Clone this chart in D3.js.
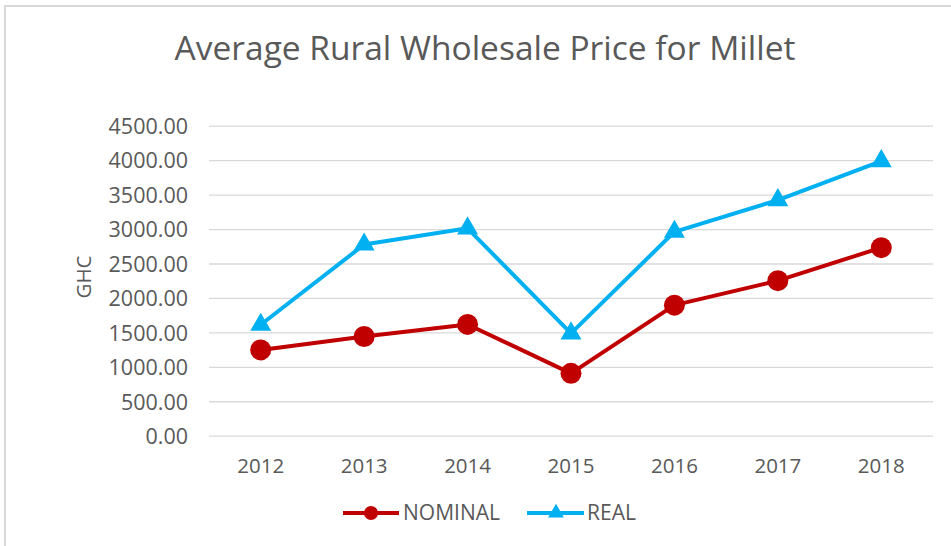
<!DOCTYPE html>
<html>
<head>
<meta charset="utf-8">
<script src="https://cdn.jsdelivr.net/npm/d3@7"></script>
<style>
  body { margin: 0; background: #fff; }
  svg text { font-family: "Open Sans", sans-serif; fill: #595959; }
</style>
</head>
<body>
<div class="chart"></div>
<script>
// data
var years = ["2012", "2013", "2014", "2015", "2016", "2017", "2018"];
var nominal = [1245, 1440, 1615, 905, 1895, 2250, 2730];
var real = [1610, 2775, 3010, 1485, 2960, 3420, 3985];
var yTicks = [0, 500, 1000, 1500, 2000, 2500, 3000, 3500, 4000, 4500];

var w = 951, h = 546;
var plotLeft = 209, plotRight = 933, plotTop = 125.7, plotBottom = 435.7;
var red = "#C00000", blue = "#00B0F0";

var svg = d3.select(".chart")
    .append("svg")
    .attr("width", w)
    .attr("height", h);

// outer frame (only top and left edges are in view)
svg.append("path")
    .attr("d", "M5," + h + " V6 H" + w)
    .attr("fill", "none")
    .attr("stroke", "#d9d9d9")
    .attr("stroke-width", 2);

var x = d3.scaleBand().domain(years).range([plotLeft, plotRight]);
var y = d3.scaleLinear().domain([0, 4500]).range([plotBottom, plotTop]);

// gridlines
svg.append("g")
    .attr("transform", "translate(" + plotLeft + ",0)")
    .call(d3.axisLeft(y).tickValues(yTicks).tickSize(-(plotRight - plotLeft)).tickFormat(""))
    .call(function(g) {
        g.select(".domain").remove();
        g.selectAll("line").attr("stroke", "#d9d9d9").attr("stroke-width", 1.3);
    });

// y tick labels
svg.append("g")
    .attr("transform", "translate(188,0)")
    .call(d3.axisLeft(y).tickValues(yTicks).tickSize(0).tickPadding(0).tickFormat(d3.format(".2f")))
    .call(function(g) {
        g.select(".domain").remove();
        g.selectAll("text").attr("font-size", 21.5).attr("fill", "#595959")
            .attr("font-family", "Open Sans, sans-serif").attr("dy", "0.36em");
    });

// x tick labels
svg.append("g")
    .attr("transform", "translate(0," + plotBottom + ")")
    .call(d3.axisBottom(x).tickSize(0).tickPadding(0))
    .call(function(g) {
        g.select(".domain").remove();
        g.selectAll("text").attr("font-size", 20.5).attr("fill", "#595959")
            .attr("font-family", "Open Sans, sans-serif").attr("dy", null).attr("y", 37);
    });

// y axis title
svg.append("text")
    .attr("transform", "translate(91,277) rotate(-90)")
    .attr("text-anchor", "middle")
    .attr("font-size", 20.5)
    .text("GHC");

// title
svg.append("text")
    .attr("x", 485)
    .attr("y", 60)
    .attr("text-anchor", "middle")
    .attr("font-size", 33.5)
    .text("Average Rural Wholesale Price for Millet");

var cx = function(d, i) { return x(years[i]) + x.bandwidth() / 2; };
var line = d3.line().x(cx).y(function(d) { return y(d); });

var tri = d3.symbol().type(d3.symbolTriangle);

// REAL series
svg.append("path")
    .datum(real)
    .attr("fill", "none")
    .attr("stroke", blue)
    .attr("stroke-width", 4)
    .attr("stroke-linejoin", "round")
    .attr("d", line);

svg.selectAll(".tri")
    .data(real)
    .enter()
    .append("path")
    .attr("class", "tri")
    .attr("fill", blue)
    .attr("d", tri.size(190)())
    .attr("transform", function(d, i) { return "translate(" + cx(d, i) + "," + y(d) + ")"; });

// NOMINAL series
svg.append("path")
    .datum(nominal)
    .attr("fill", "none")
    .attr("stroke", red)
    .attr("stroke-width", 4)
    .attr("stroke-linejoin", "round")
    .attr("d", line);

svg.selectAll(".dot")
    .data(nominal)
    .enter()
    .append("circle")
    .attr("class", "dot")
    .attr("fill", red)
    .attr("cx", cx)
    .attr("cy", function(d) { return y(d); })
    .attr("r", 10.5);

// legend
var lg = svg.append("g");
lg.append("line").attr("x1", 343).attr("x2", 399).attr("y1", 513).attr("y2", 513)
    .attr("stroke", red).attr("stroke-width", 4);
lg.append("circle").attr("cx", 371).attr("cy", 513).attr("r", 7).attr("fill", red);
lg.append("text").attr("x", 403).attr("y", 520).attr("font-size", 21).text("NOMINAL");

lg.append("line").attr("x1", 527).attr("x2", 584).attr("y1", 513).attr("y2", 513)
    .attr("stroke", blue).attr("stroke-width", 4);
lg.append("path").attr("d", tri.size(110)()).attr("fill", blue)
    .attr("transform", "translate(556,513)");
lg.append("text").attr("x", 587).attr("y", 520).attr("font-size", 21).text("REAL");
</script>
</body>
</html>
